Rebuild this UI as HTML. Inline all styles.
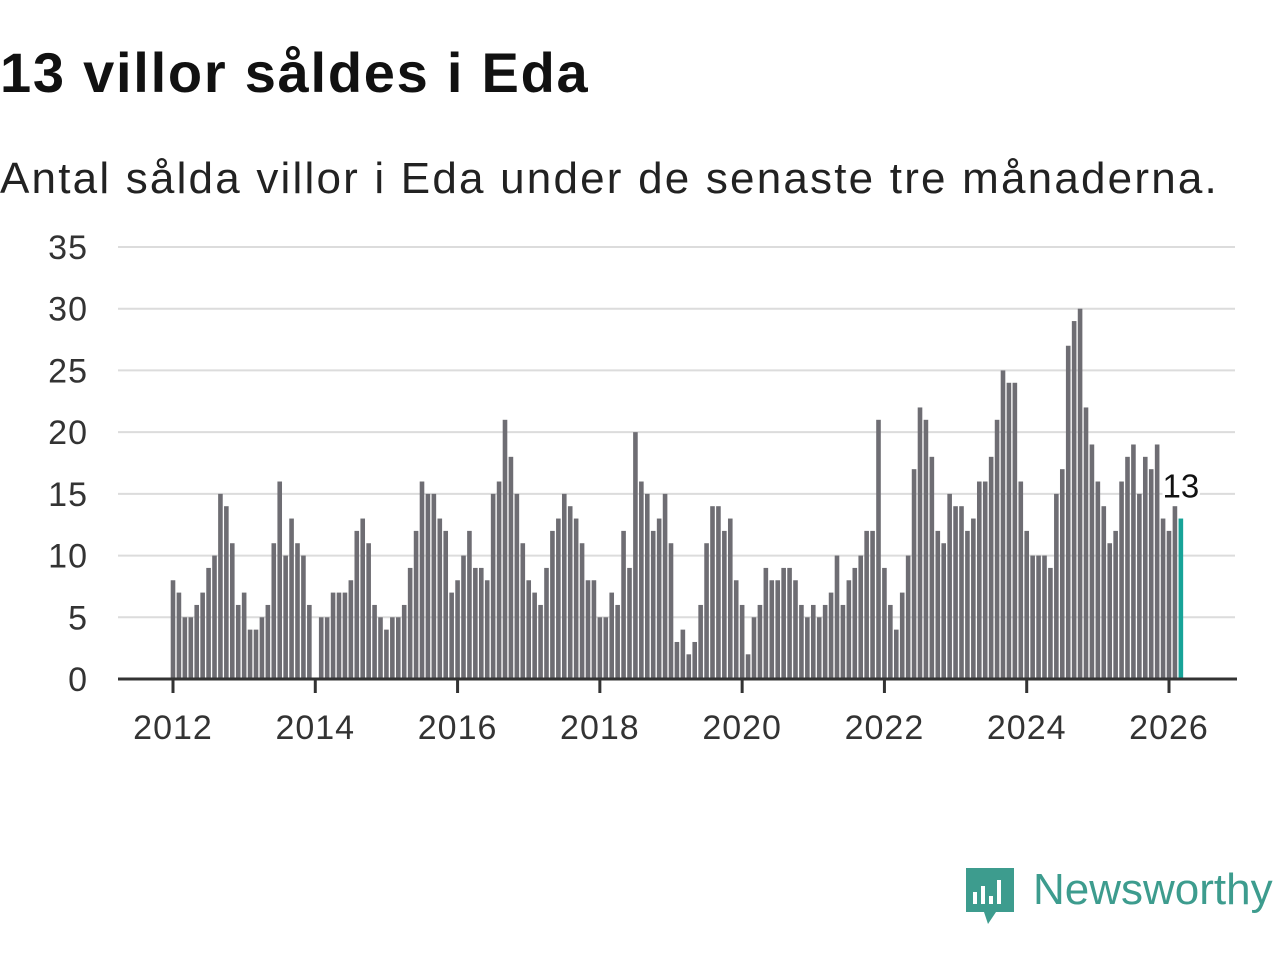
<!DOCTYPE html>
<html><head><meta charset="utf-8"><style>
body{margin:0;background:#fff;width:1280px;height:960px;overflow:hidden;font-family:"Liberation Sans",sans-serif;}
#title{position:absolute;left:0;top:40px;font-size:56px;font-weight:bold;color:#111;margin:0;letter-spacing:1.75px}
#sub{position:absolute;left:0;top:154px;font-size:44px;color:#222;margin:0;letter-spacing:2.2px}
svg{position:absolute;left:0;top:0}
</style></head><body>
<h1 id="title">13 villor såldes i Eda</h1>
<p id="sub">Antal sålda villor i Eda under de senaste tre månaderna.</p>
<svg id="chart" width="1280" height="960"></svg>
<script>
const yTicks=[0,5,10,15,20,25,30,35];
const xYears=[2012,2014,2016,2018,2020,2022,2024,2026];
const v2012=[8,7,5,5,6,7,9,10,15,14,11,6];
const v2013=[7,4,4,5,6,11,16,10,13,11,10,6];
const v2014=[0,5,5,7,7,7,8,12,13,11,6,5];
const v2015=[4,5,5,6,9,12,16,15,15,13,12,7];
const v2016=[8,10,12,9,9,8,15,16,21,18,15,11];
const v2017=[8,7,6,9,12,13,15,14,13,11,8,8];
const v2018=[5,5,7,6,12,9,20,16,15,12,13,15];
const v2019=[11,3,4,2,3,6,11,14,14,12,13,8];
const v2020=[6,2,5,6,9,8,8,9,9,8,6,5];
const v2021=[6,5,6,7,10,6,8,9,10,12,12,21];
const v2022=[9,6,4,7,10,17,22,21,18,12,11,15];
const v2023=[14,14,12,13,16,16,18,21,25,24,24,16];
const v2024=[12,10,10,10,9,15,17,27,29,30,22,19];
const v2025=[16,14,11,12,16,18,19,15,18,17,19,13];
const v2026=[12,14,13];
const values=[].concat(v2012,v2013,v2014,v2015,v2016,v2017,v2018,v2019,v2020,v2021,v2022,v2023,v2024,v2025,v2026);
const startYear=2012;
const NS="http://www.w3.org/2000/svg";
const svg=document.getElementById('chart');
const y0=679,yPer=(679-247)/35;
const x0=173,xYear=(1169-173)/14;
function ys(v){return y0-v*yPer;}
function xs(monthIdx){return x0+monthIdx*xYear/12;}
function mk(t,a){const e=document.createElementNS(NS,t);for(const k in a)e.setAttribute(k,a[k]);svg.appendChild(e);return e;}
yTicks.forEach(t=>{
  if(t>0){const g=mk('line',{x1:118,x2:1235,y1:ys(t),y2:ys(t),stroke:'#dcdcdc','stroke-width':2});
  
  }
  const l=mk('text',{x:88,y:ys(t)+12,'text-anchor':'end','font-size':34,'letter-spacing':1,fill:'#333','font-family':'Liberation Sans, sans-serif'});
  l.textContent=t;
  
  
});
values.forEach((v,i)=>{
  const last=i===values.length-1;
  const r=mk('rect',{x:xs(i)-2.3,y:ys(v),width:4.6,height:v*yPer,fill:last?'#17a398':'#6e6d73'});
  
  
});
const ax=mk('line',{x1:118,x2:1237,y1:y0,y2:y0,stroke:'#333','stroke-width':3});


xYears.forEach(yr=>{
  const x=xs((yr-startYear)*12);
  const tk=mk('line',{x1:x,x2:x,y1:y0,y2:y0+14,stroke:'#333','stroke-width':3});
  
  
  const l=mk('text',{x:x,y:739,'text-anchor':'middle','font-size':34,'letter-spacing':1,fill:'#333','font-family':'Liberation Sans, sans-serif'});
  l.textContent=yr;
  
  
});
const li=values.length-1;
const lab=mk('text',{x:xs(li),y:ys(values[li])-21,'text-anchor':'middle','font-size':33,fill:'#111',stroke:'#fff','stroke-width':5,'paint-order':'stroke','font-family':'Liberation Sans, sans-serif'});
lab.textContent=values[li];


// logo
const lg=mk('g',{});


const p=document.createElementNS(NS,'path');
p.setAttribute('d','M966 868 h48 v44 h-18 l-8 12 l-4 -12 h-18 z');p.setAttribute('fill','#3d9c8e');lg.appendChild(p);
[[973,892,4,12],[981,886,4,18],[989,896,4,8],[997,880,4,24]].forEach(b=>{const r=document.createElementNS(NS,'rect');r.setAttribute('x',b[0]);r.setAttribute('y',b[1]);r.setAttribute('width',b[2]);r.setAttribute('height',b[3]);r.setAttribute('fill','#fff');lg.appendChild(r);});
const lt=document.createElementNS(NS,'text');
lt.setAttribute('x',1033);lt.setAttribute('y',904);lt.setAttribute('font-size',44);lt.setAttribute('fill','#3d9c8e');lt.setAttribute('font-family','Liberation Sans, sans-serif');
lt.textContent='Newsworthy';lg.appendChild(lt);
</script>
</body></html>
